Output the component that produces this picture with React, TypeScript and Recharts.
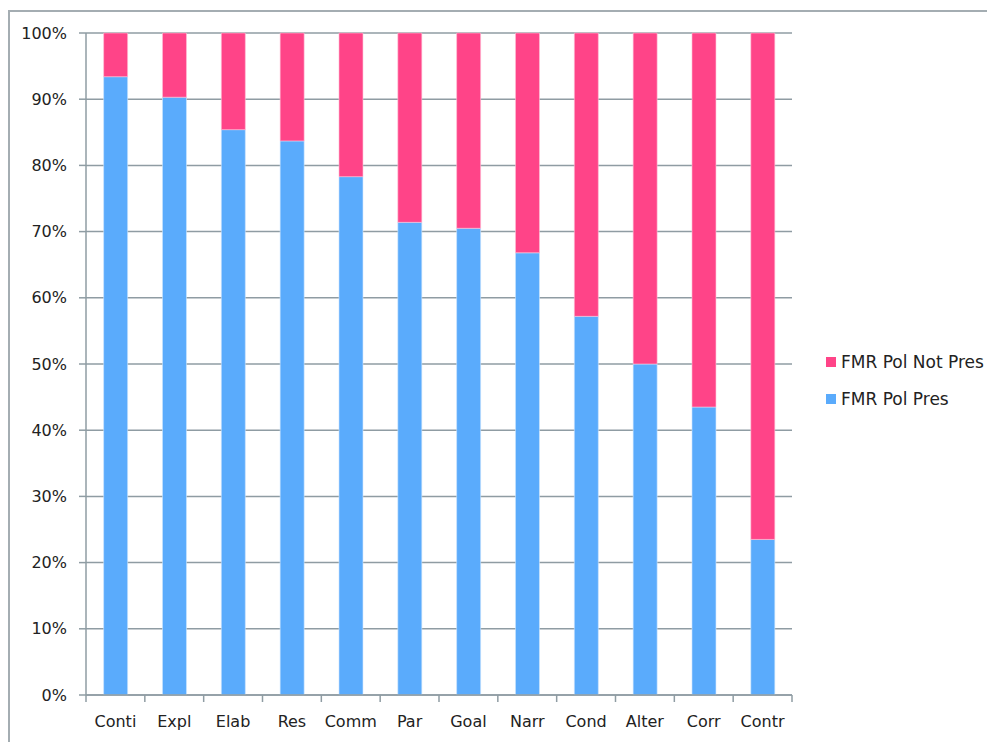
import React from 'react';
import { BarChart, Bar, XAxis, YAxis, CartesianGrid, Legend } from 'recharts';

const categories = ['Conti', 'Expl', 'Elab', 'Res', 'Comm', 'Par', 'Goal', 'Narr', 'Cond', 'Alter', 'Corr', 'Contr'];
const polPres = [93.4, 90.3, 85.4, 83.7, 78.3, 71.4, 70.5, 66.8, 57.2, 50.0, 43.5, 23.5];
const polNotPres = [6.6, 9.7, 14.6, 16.3, 21.7, 28.6, 29.5, 33.2, 42.8, 50.0, 56.5, 76.5];
const yTicks = [0, 10, 20, 30, 40, 50, 60, 70, 80, 90, 100];

const data = categories.map((name, i) => ({
  name,
  pres: polPres[i],
  notPres: polNotPres[i],
}));

const FONT = '"DejaVu Sans", "Open Sans", sans-serif';
const GRID = '#8f9ca3';
const BLUE = '#5aabfc';
const PINK = '#ff4488';
const X_TICK_SIZE = 6;
const X_TICK_MARGIN = 15;

// category ticks sit between the bars, like the original
const CategoryTick = (props: any) => {
  const { x, y, payload, index, visibleTicksCount } = props;
  const half = payload && payload.offset ? payload.offset : 29.4;
  const top = y - X_TICK_MARGIN - X_TICK_SIZE;
  return (
    <g>
      <line x1={x - half} x2={x - half} y1={top} y2={top + 7} stroke={GRID} strokeWidth={1.5} />
      {index === visibleTicksCount - 1 && (
        <line x1={x + half} x2={x + half} y1={top} y2={top + 7} stroke={GRID} strokeWidth={1.5} />
      )}
      <text x={x} y={y} dy="0.71em" textAnchor="middle" fill="#222" fontSize={16} fontFamily={FONT}>
        {payload.value}
      </text>
    </g>
  );
};

const LegendBox = (props: any) => {
  const items = [...(props.payload || [])].sort((a: any, b: any) => String(a.value).localeCompare(String(b.value)));
  return (
    <div style={{ fontFamily: FONT, fontSize: 17, color: '#222' }}>
      {items.map((it: any) => (
        <div key={it.value} style={{ display: 'flex', alignItems: 'center', height: 37, whiteSpace: 'nowrap' }}>
          <span style={{ width: 10, height: 10, background: it.color, marginRight: 5, display: 'inline-block' }} />
          <span>{it.value}</span>
        </div>
      ))}
    </div>
  );
};

export default function App() {
  return (
    <div style={{ position: 'relative', width: 987, height: 734 }}>
      <div
        style={{
          position: 'absolute',
          left: 0,
          top: 2,
          width: 1000,
          height: 740,
          borderTop: '2px solid #a4adb2',
          borderLeft: '2px solid #a4adb2',
          boxSizing: 'border-box',
        }}
      />
      <BarChart
        width={987}
        height={734}
        data={data}
        margin={{ top: 25, right: 203, bottom: 7, left: 0 }}
        barCategoryGap="30%"
        style={{ position: 'absolute', left: 0, top: 0 }}
      >
        <CartesianGrid vertical={false} stroke={GRID} strokeWidth={1.5} />
        <XAxis
          dataKey="name"
          height={40}
          axisLine={{ stroke: GRID, strokeWidth: 1.5 }}
          tickLine={false}
          tickSize={X_TICK_SIZE}
          tickMargin={X_TICK_MARGIN}
          interval={0}
          tick={<CategoryTick />}
        />
        <YAxis
          width={78}
          domain={[0, 100]}
          ticks={yTicks}
          interval={0}
          tickFormatter={(v: number) => `${v}%`}
          axisLine={{ stroke: GRID, strokeWidth: 1.5 }}
          tickLine={{ stroke: GRID, strokeWidth: 1.5 }}
          tickSize={7}
          tickMargin={12}
          tick={{ fill: '#222', fontSize: 16, fontFamily: FONT }}
        />
        <Legend
          layout="vertical"
          align="center"
          verticalAlign="middle"
          content={<LegendBox />}
          wrapperStyle={{ left: 818, top: 335, width: 175 }}
        />
        <Bar dataKey="pres" name="FMR Pol Pres" stackId="a" fill={BLUE} stroke="#cfe6fd" strokeWidth={0.6} isAnimationActive={false} />
        <Bar dataKey="notPres" name="FMR Pol Not Pres" stackId="a" fill={PINK} stroke="#ffc2d8" strokeWidth={0.6} isAnimationActive={false} />
      </BarChart>
    </div>
  );
}
